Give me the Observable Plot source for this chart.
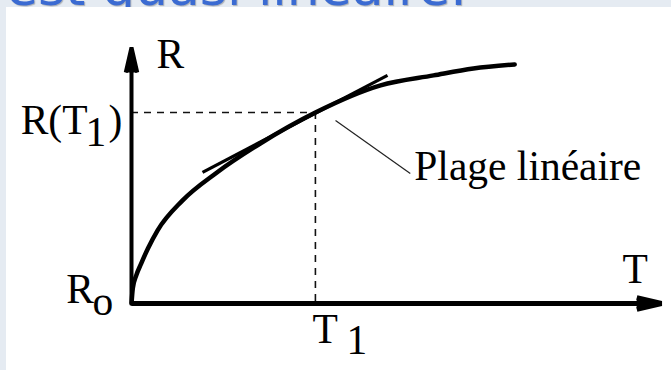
<!DOCTYPE html>
<html>
<head>
<meta charset="utf-8">
<script src="https://cdn.jsdelivr.net/npm/d3@7"></script>
<script src="https://cdn.jsdelivr.net/npm/@observablehq/plot@0.6"></script>
<style>
  html, body { margin: 0; padding: 0; width: 671px; height: 370px; overflow: hidden; background: #e5ebf2; }
  #heading { position: absolute; left: 0; top: 0; width: 671px; height: 7px; overflow: hidden; }
  #heading span { position: absolute; left: 6px; top: -39px; font: 52px/52px "DejaVu Sans", sans-serif;
                  color: #3b6bd2; white-space: nowrap; text-shadow: 1px 1px 1px rgba(0,0,0,.25); }
  #panel { position: absolute; left: 6px; top: 7px; right: 0; bottom: 0; background: #fff; }
  #chart { position: absolute; left: 0; top: 0; }
  #chart svg text { font-family: "Liberation Serif", "Times New Roman", serif !important; }
</style>
</head>
<body>
<div id="heading"><span>est quasi linéaire.</span></div>
<div id="panel"></div>
<div id="chart"></div>
<script>
// Resistance R versus temperature T (arbitrary units, 0..100 on each axis)
const T = [0, 0.25, 0.9, 1.8, 3.1, 4.9, 9.6, 16, 24.3, 34.7, 47, 57, 64.5, 72.3];
const R = [0, 6, 11, 15.5, 21.5, 28.5, 40.2, 51, 62.5, 74.6, 85.2, 89.1, 91.8, 93.4];

// Operating point (T1, R(T1)) on the curve
const T1 = 34.7;
const R1 = 74.6;

// Tangent at the operating point: the linear range
const tangentT = [13.4, 48.3];
const tangentR = [51.2, 89.1];

// Leader line from the tangent to its label
const leaderT = [38.5, 52.6];
const leaderR = [71.5, 50.8];

// Axis extent
const axisMax = 100;

const curve = T.map((t, i) => ({T: t, R: R[i]}));
const tangent = [{x1: tangentT[0], y1: tangentR[0], x2: tangentT[1], y2: tangentR[1]}];
const leader = [{x1: leaderT[0], y1: leaderR[0], x2: leaderT[1], y2: leaderR[1]}];

const serif = "'Liberation Serif', 'Times New Roman', serif";
const label = (text, x, y, opts) =>
  Plot.text([{x, y, text}], {x: "x", y: "y", text: "text", fill: "black",
    fontFamily: serif, fontSize: 41.5, lineAnchor: "bottom", textAnchor: "start", ...opts});

const chart = Plot.plot({
  width: 671,
  height: 370,
  x: {domain: [0, axisMax], range: [131, 661], axis: null},
  y: {domain: [0, axisMax], range: [303, 47], axis: null},
  style: {background: "transparent", overflow: "visible"},
  marks: [
    // dashed guides to the operating point
    Plot.ruleY([R1], {x1: 0, x2: T1, stroke: "#111", strokeWidth: 1.6, strokeDasharray: "7,6"}),
    Plot.ruleX([T1], {y1: R1, y2: 0, stroke: "#111", strokeWidth: 1.6, strokeDasharray: "7,6"}),
    // axes with filled arrowheads
    Plot.arrow([{x1: 0, y1: 0, x2: axisMax, y2: 0}], {x1: "x1", y1: "y1", x2: "x2", y2: "y2",
      stroke: "black", fill: "black", strokeWidth: 5, headLength: 7.6, headAngle: 26, strokeLinecap: "butt"}),
    Plot.arrow([{x1: 0, y1: 0, x2: 0, y2: axisMax}], {x1: "x1", y1: "y1", x2: "x2", y2: "y2",
      stroke: "black", fill: "black", strokeWidth: 4, headLength: 9.6, headAngle: 26, strokeLinecap: "butt"}),
    // R(T) characteristic
    Plot.line(curve, {x: "T", y: "R", curve: "monotone-x", stroke: "black", strokeWidth: 4.5}),
    // tangent (linear range)
    Plot.link(tangent, {x1: "x1", y1: "y1", x2: "x2", y2: "y2", stroke: "black", strokeWidth: 3.2}),
    // leader line
    Plot.link(leader, {x1: "x1", y1: "y1", x2: "x2", y2: "y2", stroke: "#222", strokeWidth: 1.2}),
    // labels
    label("R", 0, axisMax, {dx: 25, dy: 20}),
    label("R(T", 0, R1, {dx: -44, dy: 21, textAnchor: "end"}),
    label("1", 0, R1, {dx: -46, dy: 33}),
    label(")", 0, R1, {dx: -23, dy: 21}),
    label("R", 0, 0, {dx: -37.5, dy: -1, textAnchor: "end"}),
    label("o", 0, 0, {dx: -39, dy: 11}),
    label("T", axisMax, 0, {dx: -39, dy: -21}),
    label("T", T1, 0, {dx: -3, dy: 39}),
    label("1", T1, 0, {dx: 31, dy: 50}),
    label("Plage linéaire", leaderT[1], leaderR[1], {dx: 4, dy: 7})
  ]
});
document.getElementById("chart").append(chart);
</script>
</body>
</html>
